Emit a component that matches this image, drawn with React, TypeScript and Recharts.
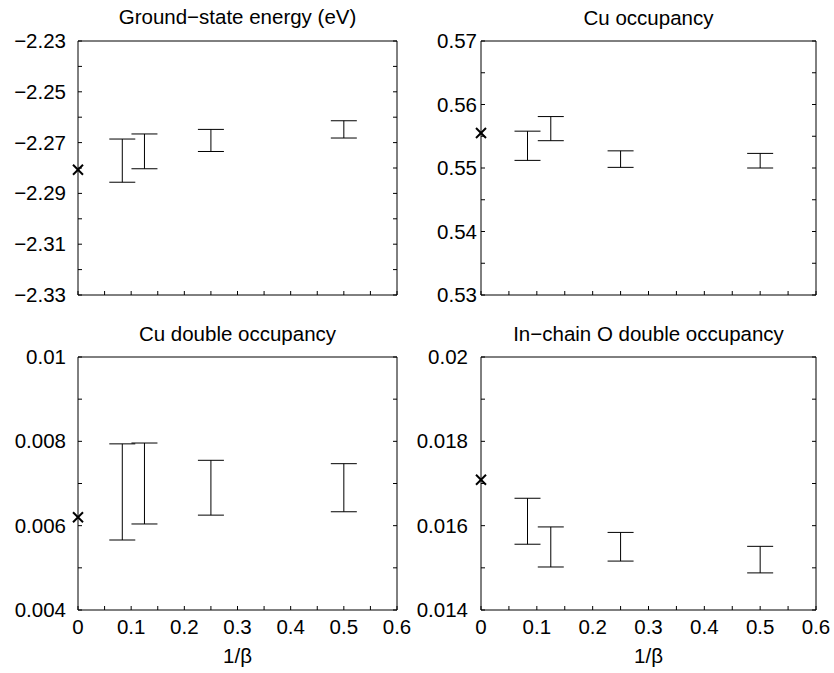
import React from "react";
import { ComposedChart, Scatter, ErrorBar, XAxis, YAxis } from "recharts";

// 1/beta values of the QMC runs (beta = 12, 8, 4, 2)
const INV_BETA = [0.0833, 0.125, 0.25, 0.5];

const X_TICKS = [0, 0.05, 0.1, 0.15, 0.2, 0.25, 0.3, 0.35, 0.4, 0.45, 0.5, 0.55, 0.6];
const X_LABELS = [0, 0.1, 0.2, 0.3, 0.4, 0.5, 0.6];

// ground-state energy (eV)
const energyLow = [-2.2856, -2.2803, -2.2735, -2.2682];
const energyHigh = [-2.2686, -2.2666, -2.2648, -2.2614];
const energyExact = -2.2807;
const energyTicks = [-2.33, -2.32, -2.31, -2.3, -2.29, -2.28, -2.27, -2.26, -2.25, -2.24, -2.23];
const energyLabels = [-2.33, -2.31, -2.29, -2.27, -2.25, -2.23];

// Cu occupancy
const cuOccLow = [0.5512, 0.5543, 0.5501, 0.55];
const cuOccHigh = [0.5558, 0.5581, 0.5527, 0.5523];
const cuOccExact = 0.5555;
const cuOccTicks = [0.53, 0.535, 0.54, 0.545, 0.55, 0.555, 0.56, 0.565, 0.57];
const cuOccLabels = [0.53, 0.54, 0.55, 0.56, 0.57];

// Cu double occupancy
const cuDblLow = [0.00566, 0.00604, 0.00625, 0.00633];
const cuDblHigh = [0.00794, 0.00796, 0.00755, 0.00747];
const cuDblExact = 0.0062;
const cuDblTicks = [0.004, 0.005, 0.006, 0.007, 0.008, 0.009, 0.01];
const cuDblLabels = [0.004, 0.006, 0.008, 0.01];

// in-chain O double occupancy
const oDblLow = [0.01556, 0.01502, 0.01516, 0.01488];
const oDblHigh = [0.01665, 0.01597, 0.01584, 0.01551];
const oDblExact = 0.01709;
const oDblTicks = [0.014, 0.015, 0.016, 0.017, 0.018, 0.019, 0.02];
const oDblLabels = [0.014, 0.016, 0.018, 0.02];

const FONT = "'Liberation Sans', Arial, Helvetica, sans-serif";
const TICK = 4;
const txt = { fontFamily: FONT, fontSize: 20.5, fill: "#000" };

const fmt = (v: number) => String(v).replace("-", "\u2212");
const has = (arr: number[], v: number) => arr.some((a) => Math.abs(a - v) < 1e-9);

const bottomTick = (labels: number[]) => (p: any) => (
  <g>
    <line x1={p.x} y1={p.y} x2={p.x} y2={p.y - TICK} stroke="#000" />
    {has(labels, p.payload.value) && (
      <text x={p.x} y={p.y + 24} textAnchor="middle" style={txt}>
        {fmt(p.payload.value)}
      </text>
    )}
  </g>
);

const topTick = (p: any) => <line x1={p.x} y1={p.y} x2={p.x} y2={p.y + TICK} stroke="#000" />;

const leftTick = (labels: number[], gap: number) => (p: any) => (
  <g>
    <line x1={p.x} y1={p.y} x2={p.x + TICK} y2={p.y} stroke="#000" />
    {has(labels, p.payload.value) && (
      <text x={p.x - gap} y={p.y + 7} textAnchor="end" style={txt}>
        {fmt(p.payload.value)}
      </text>
    )}
  </g>
);

const rightTick = (p: any) => <line x1={p.x} y1={p.y} x2={p.x - TICK} y2={p.y} stroke="#000" />;

const Cross = (p: any) => (
  <g stroke="#000" strokeWidth={2}>
    <line x1={p.cx - 5} y1={p.cy - 5} x2={p.cx + 5} y2={p.cy + 5} />
    <line x1={p.cx - 5} y1={p.cy + 5} x2={p.cx + 5} y2={p.cy - 5} />
  </g>
);

interface PanelProps {
  left: number;
  top: number;
  height: number;
  margin: { top: number; right: number; bottom: number; left: number };
  title: string;
  lo: number[];
  hi: number[];
  exact: number;
  yTicks: number[];
  yLabels: number[];
  gap: number;
  titleOffset: number;
  showX: boolean;
}

function Panel(props: PanelProps) {
  const { lo, hi, yTicks } = props;
  const rows = INV_BETA.map((x, i) => {
    const mid = (lo[i] + hi[i]) / 2;
    return { x, y: mid, err: [mid - lo[i], hi[i] - mid] };
  });
  const exactRow = [{ x: 0, y: props.exact }];
  const yDomain = [yTicks[0], yTicks[yTicks.length - 1]];
  // axes are 1px thick, so shrink the margins by one to keep the plot box in place
  const m = props.margin;
  const margin = { top: m.top - 1, right: m.right - 1, bottom: m.bottom - 1, left: m.left - 1 };

  return (
    <div style={{ position: "absolute", left: props.left, top: props.top }}>
      <ComposedChart width={417} height={props.height} margin={margin}>
        <XAxis
          xAxisId="b"
          type="number"
          dataKey="x"
          domain={[0, 0.6]}
          ticks={X_TICKS}
          interval={0}
          height={1}
          tickSize={0}
          tickMargin={0}
          tickLine={false}
          axisLine={{ stroke: "#000" }}
          tick={bottomTick(props.showX ? X_LABELS : [])}
          label={
            props.showX
              ? { value: "1/\u03b2", position: "bottom", offset: 37, style: txt }
              : undefined
          }
        />
        <XAxis
          xAxisId="t"
          orientation="top"
          type="number"
          domain={[0, 0.6]}
          ticks={X_TICKS}
          interval={0}
          allowDataOverflow
          height={1}
          tickSize={0}
          tickMargin={0}
          tickLine={false}
          axisLine={{ stroke: "#000" }}
          tick={topTick}
          label={{ value: props.title, position: "top", offset: props.titleOffset - 1, style: txt }}
        />
        <YAxis
          yAxisId="l"
          type="number"
          dataKey="y"
          domain={yDomain}
          ticks={yTicks}
          interval={0}
          width={1}
          tickSize={0}
          tickMargin={0}
          tickLine={false}
          axisLine={{ stroke: "#000" }}
          tick={leftTick(props.yLabels, props.gap)}
        />
        <YAxis
          yAxisId="r"
          orientation="right"
          type="number"
          domain={yDomain}
          ticks={yTicks}
          interval={0}
          allowDataOverflow
          width={1}
          tickSize={0}
          tickMargin={0}
          tickLine={false}
          axisLine={{ stroke: "#000" }}
          tick={rightTick}
        />
        <Scatter
          xAxisId="b"
          yAxisId="l"
          data={rows}
          shape={() => <g />}
          isAnimationActive={false}
        >
          <ErrorBar
            dataKey="err"
            direction="y"
            width={13}
            stroke="#000"
            strokeWidth={1}
            isAnimationActive={false}
          />
        </Scatter>
        <Scatter
          xAxisId="b"
          yAxisId="l"
          data={exactRow}
          shape={Cross}
          isAnimationActive={false}
        />
      </ComposedChart>
    </div>
  );
}

export default function App() {
  return (
    <div
      style={{
        position: "absolute",
        left: 0,
        top: 0,
        width: 834,
        height: 673,
        background: "#fff",
      }}
    >
      <Panel
        left={0}
        top={0}
        height={318}
        margin={{ top: 41, right: 20, bottom: 23, left: 78 }}
        title={"Ground\u2212state energy (eV)"}
        lo={energyLow}
        hi={energyHigh}
        exact={energyExact}
        yTicks={energyTicks}
        yLabels={energyLabels}
        gap={12}
        titleOffset={17}
        showX={false}
      />
      <Panel
        left={417}
        top={0}
        height={318}
        margin={{ top: 41, right: 18, bottom: 23, left: 64 }}
        title="Cu occupancy"
        lo={cuOccLow}
        hi={cuOccHigh}
        exact={cuOccExact}
        yTicks={cuOccTicks}
        yLabels={cuOccLabels}
        gap={4}
        titleOffset={16}
        showX={false}
      />
      <Panel
        left={0}
        top={318}
        height={355}
        margin={{ top: 39, right: 20, bottom: 63, left: 78 }}
        title="Cu double occupancy"
        lo={cuDblLow}
        hi={cuDblHigh}
        exact={cuDblExact}
        yTicks={cuDblTicks}
        yLabels={cuDblLabels}
        gap={12}
        titleOffset={16}
        showX={true}
      />
      <Panel
        left={417}
        top={318}
        height={355}
        margin={{ top: 39, right: 18, bottom: 63, left: 64 }}
        title={"In\u2212chain O double occupancy"}
        lo={oDblLow}
        hi={oDblHigh}
        exact={oDblExact}
        yTicks={oDblTicks}
        yLabels={oDblLabels}
        gap={13}
        titleOffset={16}
        showX={true}
      />
    </div>
  );
}
